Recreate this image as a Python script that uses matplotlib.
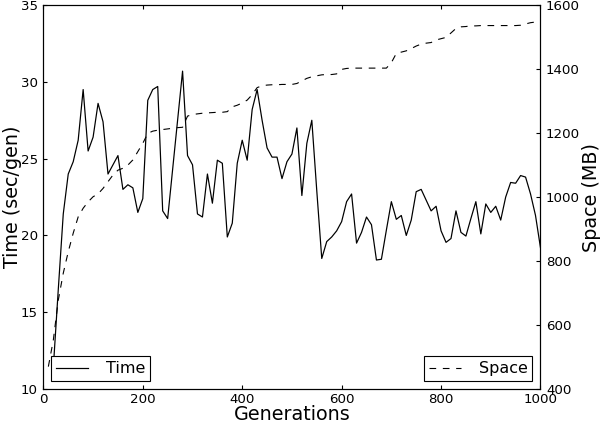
import numpy as np
import matplotlib
matplotlib.use("Agg")
import matplotlib.pyplot as plt

plt.rcParams['font.family'] = ['DejaVu Sans']

generations = list(range(10, 1001, 10))

time_sec = [
    np.nan, 11.4, 16.5, 21.4, 24.0, 24.8, 26.2, 29.5, 25.5, 26.4,
    28.6, 27.4, 24.0, 24.6, 25.2, 23.0, 23.3, 23.1, 21.5, 22.4,
    28.8, 29.5, 29.7, 21.6, 21.1, 24.3, 27.5, 30.7, 25.2, 24.6,
    21.4, 21.2, 24.0, 22.1, 24.9, 24.7, 19.9, 20.8, 24.7, 26.2,
    24.9, 28.2, 29.5, 27.5, 25.7, 25.1, 25.1, 23.7, 24.8, 25.3,
    27.0, 22.6, 26.0, 27.5, 22.9, 18.5, 19.6, 19.9, 20.3, 20.9,
    22.2, 22.7, 19.5, 20.2, 21.2, 20.7, 18.4, 18.45, 20.35, 22.2,
    21.05, 21.3, 20.0, 21.0, 22.85, 23.0, 22.3, 21.6, 21.9, 20.3,
    19.55, 19.8, 21.6, 20.2, 19.96, 21.1, 22.2, 20.1, 22.05, 21.5,
    21.9, 21.0, 22.5, 23.45, 23.4, 23.9, 23.8, 22.7, 21.3, 19.2,
]

space_mb = [
    470, 553, 678, 762, 829, 887, 938, 965, 985, 1001,
    1010, 1027, 1048, 1069, 1084, 1090, 1100, 1116, 1142, 1168,
    1199, 1206, 1209, 1211, 1213, 1215, 1217, 1218, 1253, 1258,
    1260, 1262, 1263, 1264, 1265, 1265, 1267, 1282, 1287, 1294,
    1303, 1320, 1342, 1348, 1350, 1351, 1351, 1352, 1352, 1352,
    1355, 1363, 1371, 1376, 1379, 1382, 1383, 1383, 1385, 1399,
    1402, 1403, 1403, 1403, 1403, 1403, 1403, 1403, 1403, 1420,
    1449, 1453, 1457, 1464, 1472, 1478, 1481, 1483, 1491, 1495,
    1499, 1513, 1527, 1532, 1533, 1535, 1535, 1536, 1536, 1536,
    1536, 1536, 1536, 1536, 1536, 1537, 1541, 1545, 1547, 1548,
]

x_label = "Generations"
y1_label = "Time (sec/gen)"
y2_label = "Space (MB)"

fig = plt.figure(figsize=(7.5, 5.3), dpi=80)
ax1 = fig.add_axes([0.0723, 0.0825, 0.8285, 0.9055])
ax2 = ax1.twinx()

ln1, = ax1.plot(generations, time_sec, color='black', lw=1.1, label='Time')
ln2, = ax2.plot(generations, space_mb, color='black', lw=1.0,
                linestyle=(0, (6, 6)), label='Space')

ax1.set_xlim(0, 1000)
ax1.set_ylim(10, 35)
ax2.set_ylim(400, 1600)
ax1.set_xticks([0, 200, 400, 600, 800, 1000])
ax1.set_yticks([10, 15, 20, 25, 30, 35])
ax2.set_yticks([400, 600, 800, 1000, 1200, 1400, 1600])

for ax in (ax1, ax2):
    for s in ax.spines.values():
        s.set_linewidth(1.0)

ax1.tick_params(axis='x', direction='in', top=True, bottom=True,
                labelsize=12, length=4, width=1, pad=4)
ax1.tick_params(axis='y', direction='in', left=True, right=False,
                labelsize=12, length=4, width=1, pad=5)
ax2.tick_params(axis='y', direction='in', right=True, left=False,
                labelsize=12, length=4, width=1, pad=5)

ax1.set_xlabel(x_label, fontsize=17.28, labelpad=-1)
ax1.set_ylabel(y1_label, fontsize=17.28, labelpad=-1.5)
ax2.set_ylabel(y2_label, fontsize=17.28, labelpad=2)

leg_kw = dict(fontsize=14.4, fancybox=False, framealpha=1, edgecolor='black',
              borderpad=0.3, handlelength=2.0, handletextpad=1.1,
              borderaxespad=0.5)
l1 = ax1.legend(handles=[ln1], loc='lower left', **leg_kw)
l1.get_frame().set_linewidth(1.0)
l2 = ax2.legend(handles=[ln2], loc='lower right', **leg_kw)
l2.get_frame().set_linewidth(1.0)

fig.savefig("out.png", dpi=80)
